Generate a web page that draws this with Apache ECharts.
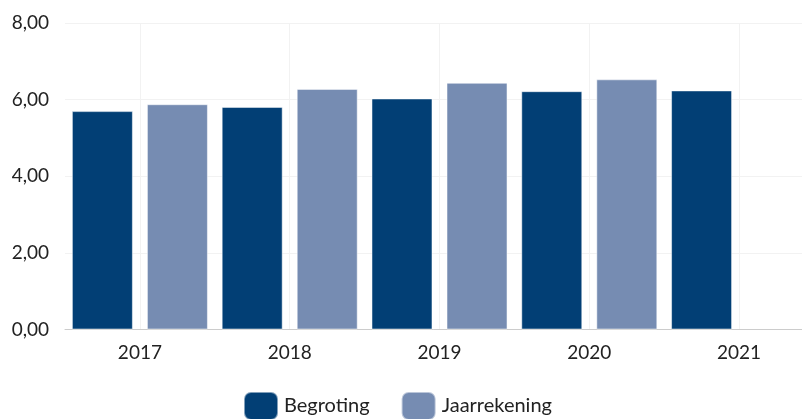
<!DOCTYPE html>
<html>
<head>
<meta charset="utf-8">
<script src="https://cdn.jsdelivr.net/npm/echarts@6/dist/echarts.min.js"></script>
<style>
html,body{margin:0;padding:0;background:#fff;}
#chart{width:802px;height:419px;}
</style>
</head>
<body>
<div id="chart"></div>
<script>
const categories = ['2017', '2018', '2019', '2020', '2021'];
const begroting = [5.70, 5.81, 6.03, 6.22, 6.24];
const jaarrekening = [5.88, 6.28, 6.44, 6.53, null];
const seriesNames = ['Begroting', 'Jaarrekening'];
const colors = ['#023f75', '#768cb2'];

const chart = echarts.init(document.getElementById('chart'));
const font = 'Lato, "Noto Sans", sans-serif';
chart.setOption({
  animation: false,
  color: colors,
  textStyle: { fontFamily: font },
  grid: { left: 65, width: 749, top: 23, bottom: 89.5, containLabel: false, outerBoundsMode: 'none' },
  legend: {
    data: seriesNames,
    left: 243,
    top: 391,
    padding: 0,
    itemWidth: 34,
    itemHeight: 28,
    itemGap: 31,
    icon: 'roundRect',
    textStyle: { fontFamily: font, fontSize: 20, color: '#222', padding: [0, 0, 0, 1] }
  },
  xAxis: {
    type: 'category',
    data: categories,
    axisLine: { show: true, lineStyle: { color: '#cccccc', width: 1 } },
    axisTick: { show: false, alignWithLabel: true },
    splitLine: { show: true, alignWithLabel: true, lineStyle: { color: '#f2f2f2', width: 1 } },
    axisLabel: { fontFamily: font, fontSize: 19, color: '#222', margin: 14 }
  },
  yAxis: {
    type: 'value',
    min: 0,
    max: 8,
    interval: 2,
    axisLine: { show: false },
    axisTick: { show: false },
    splitLine: { show: true, lineStyle: { color: '#f2f2f2', width: 1 } },
    axisLabel: {
      fontFamily: font, fontSize: 19, color: '#222', margin: 16,
      formatter: v => v.toFixed(2).replace('.', ',')
    }
  },
  series: [
    {
      name: seriesNames[0], type: 'bar', data: begroting,
      barWidth: 61, barGap: '23%',
      itemStyle: { color: colors[0], borderColor: 'rgba(255,255,255,0.5)', borderWidth: 1 }
    },
    {
      name: seriesNames[1], type: 'bar', data: jaarrekening,
      barWidth: 61, barGap: '23%',
      itemStyle: { color: colors[1], borderColor: 'rgba(255,255,255,0.5)', borderWidth: 1 }
    }
  ]
});
</script>
</body>
</html>
